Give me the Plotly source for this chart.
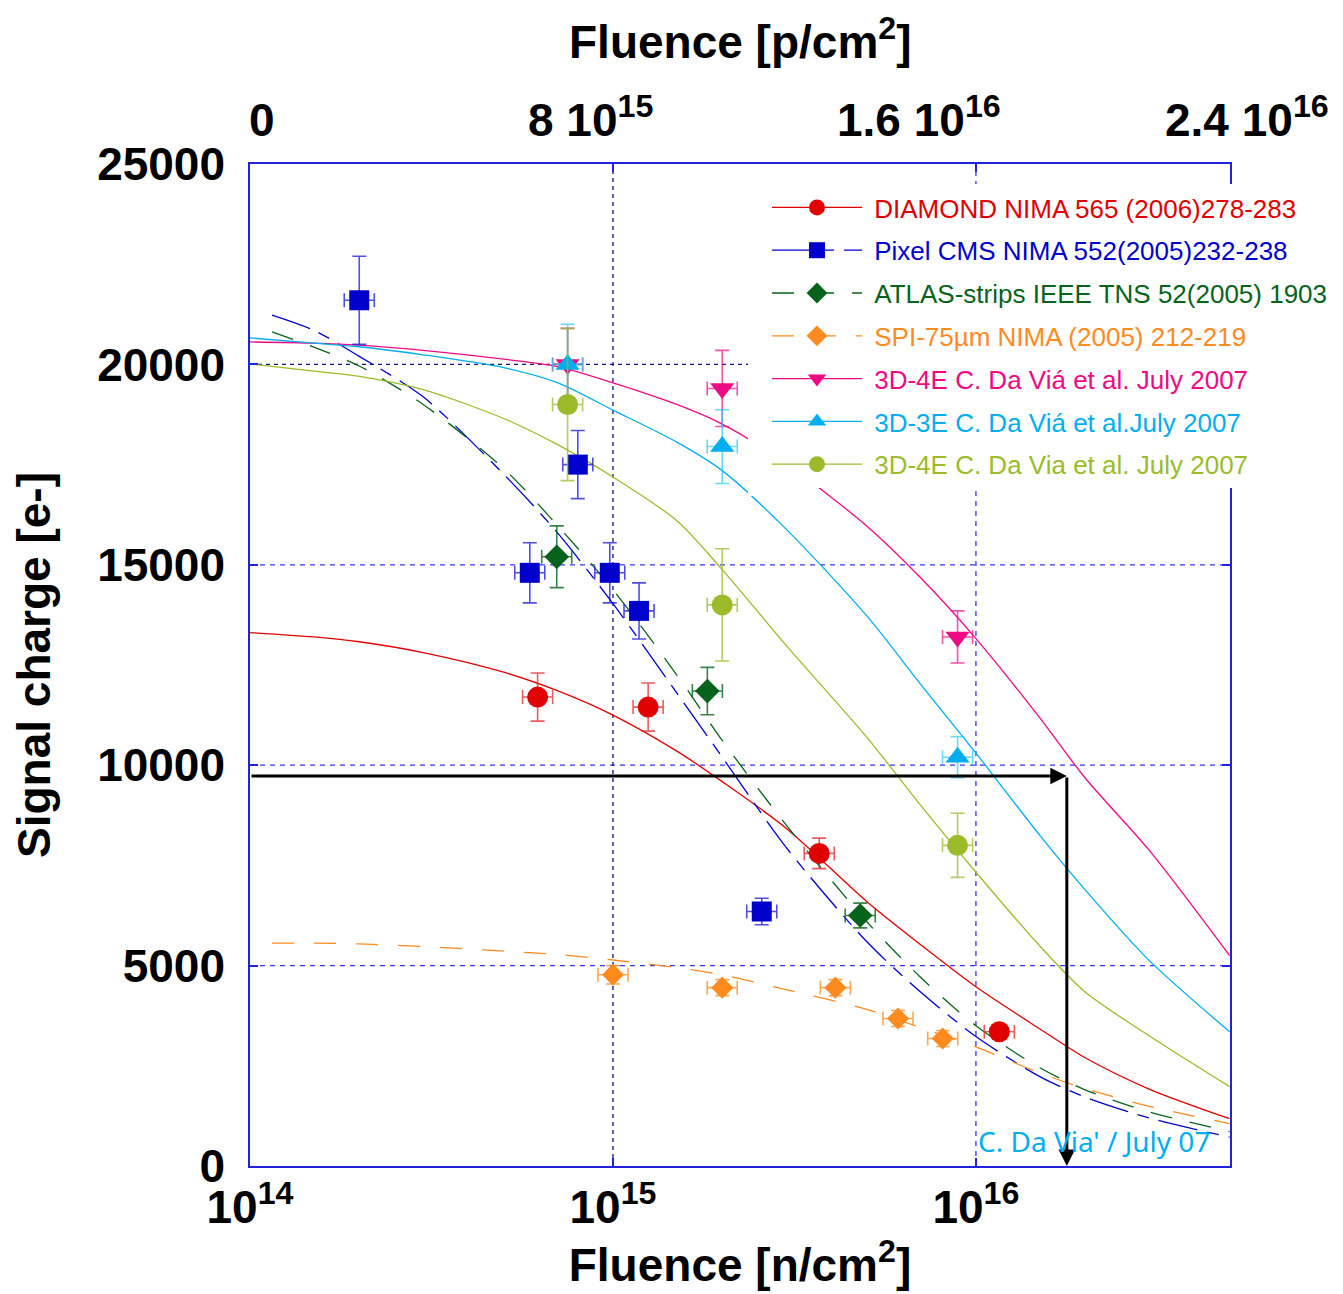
import math
import plotly.graph_objects as go

# ---------------- measured points (fluence in n/cm2, signal in e-) ----------------
dia_x = [6.2e14, 1.25e15, 3.7e15, 1.16e16]
dia_y = [11700, 11450, 7800, 3350]
dia_err = [600, 600, 380, 0]

cms_x = [2.0e14, 5.9e14, 8.0e14, 9.8e14, 1.18e15, 2.57e15]
cms_y = [21600, 14800, 17500, 14800, 13850, 6350]
cms_err = [1100, 750, 850, 750, 700, 330]

atlas_x = [7.0e14, 1.82e15, 4.8e15]
atlas_y = [15200, 11850, 6250]
atlas_err = [770, 590, 310]

spi_x = [1.0e15, 2.0e15, 4.1e15, 6.1e15, 8.1e15]
spi_y = [4770, 4450, 4450, 3680, 3180]
spi_err = [230, 200, 200, 200, 200]

d4e_x = [7.5e14, 2.0e15, 8.9e15]
d4e_y = [20000, 19400, 13200]
d4e_err = [900, 950, 650]

d3e_x = [7.5e14, 2.0e15, 8.9e15]
d3e_y = [20000, 17950, 10200]
d3e_err = [1000, 920, 510]

v4e_x = [7.5e14, 2.0e15, 8.9e15]
v4e_y = [19000, 14000, 8000]
v4e_err = [1900, 1400, 800]

# relative uncertainty on the fluence
fluence_rel_err = 0.10

# ---------------- fitted curves ----------------
fit_x = [1e14, 1.5e14, 2e14, 3e14, 5e14, 7e14, 1e15, 1.5e15, 2e15, 3e15,
         5e15, 7e15, 1e16, 1.5e16, 2e16, 3e16, 5e16]
dia_fit = [13310, 13200, 13080, 12810, 12320, 11865, 11250, 10350, 9590, 8430,
           6600, 5540, 4470, 3420, 2700, 1920, 1180]
d3e_fit = [20660, 20530, 20440, 20240, 19920, 19550, 18860, 18060, 17350, 15890,
           13730, 12050, 10300, 8250, 6890, 5130, 3350]
d4e_fit = [20560, 20530, 20480, 20350, 20130, 19950, 19540, 19000, 18510, 17530,
           15970, 14700, 13160, 11180, 9680, 7880, 5250]
v4e_fit = [20010, 19830, 19700, 19370, 18650, 18010, 17190, 16100, 14880, 12990,
           10700, 9030, 7330, 5490, 4340, 3250, 1980]

dfit_x = [1.15e14, 1.5e14, 2e14, 3e14, 5e14, 7e14, 1e15, 1.5e15, 2e15, 3e15,
          5e15, 7e15, 1e16, 1.5e16, 2e16, 3e16, 5e16]
cms_fit = [21230, 20850, 20200, 19190, 17260, 15820, 14030, 11800, 10200, 7950,
           5600, 4360, 3230, 2230, 1720, 1200, 720]
atlas_fit = [20810, 20430, 19960, 19000, 17400, 16000, 14380, 12250, 10620, 8510,
             6100, 4730, 3500, 2450, 1900, 1350, 860]
spi_fit = [5560, 5560, 5540, 5475, 5360, 5280, 5140, 4950, 4770, 4400,
           3910, 3460, 2970, 2320, 1930, 1490, 1060]

# guide: signal threshold and the fluence where the 3D-4E fit reaches it
guide_signal = 9730
guide_fluence = 1.78e16

# ---------------- axis labels ----------------
y_ticks = [0, 5000, 10000, 15000, 20000, 25000]
y_tick_text = ["0", "5000", "10000", "15000", "20000", "25000"]
x_ticks = [1e14, 1e15, 1e16]
x_tick_text = ["10<sup>14</sup>", "10<sup>15</sup>", "10<sup>16</sup>"]
p_tick_vals = [0, 8e15, 1.6e16, 2.4e16]
p_tick_text = ["0", "8 10<sup>15</sup>", "1.6 10<sup>16</sup>", "2.4 10<sup>16</sup>"]

series = [
    dict(name="DIAMOND NIMA 565 (2006)278-283", color="#E00000", err="rgba(224,40,40,0.75)",
         x=dia_x, y=dia_y, e=dia_err, fx=fit_x, fy=dia_fit, dash="solid",
         symbol="circle", size=21),
    dict(name="Pixel CMS NIMA 552(2005)232-238", color="#0000CC", err="rgba(20,20,220,0.75)",
         x=cms_x, y=cms_y, e=cms_err, fx=dfit_x, fy=cms_fit, dash="40px,10px,12px,10px",
         symbol="square", size=20),
    dict(name="ATLAS-strips IEEE TNS 52(2005) 1903", color="#07631C", err="rgba(7,99,28,0.8)",
         x=atlas_x, y=atlas_y, e=atlas_err, fx=dfit_x, fy=atlas_fit, dash="22px,18px",
         symbol="diamond", size=19),
    dict(name="SPI-75\u00b5m NIMA (2005) 212-219", color="#FF8A1E", err="rgba(255,138,30,0.75)",
         x=spi_x, y=spi_y, e=spi_err, fx=dfit_x, fy=spi_fit, dash="22px,20px",
         symbol="diamond", size=17),
    dict(name="3D-4E C. Da Vi\u00e1 et al. July 2007", color="#EE0A84", err="rgba(238,10,132,0.7)",
         x=d4e_x, y=d4e_y, e=d4e_err, fx=fit_x, fy=d4e_fit, dash="solid",
         symbol="triangle-down", size=21),
    dict(name="3D-3E C. Da Vi\u00e1 et al.July 2007", color="#00AEEF", err="rgba(40,200,250,0.7)",
         x=d3e_x, y=d3e_y, e=d3e_err, fx=fit_x, fy=d3e_fit, dash="solid",
         symbol="triangle-up", size=21),
    dict(name="3D-4E C. Da Via et al. July 2007", color="#9BBB2A", err="rgba(155,187,42,0.75)",
         x=v4e_x, y=v4e_y, e=v4e_err, fx=fit_x, fy=v4e_fit, dash="solid",
         symbol="circle", size=21),
]

fig = go.Figure()

# fitted curves
for s in series:
    fig.add_trace(go.Scatter(x=s["fx"], y=s["fy"], mode="lines", showlegend=False,
                             line=dict(color=s["color"], width=1.3, dash=s["dash"],
                                       shape="spline", smoothing=0.8),
                             hoverinfo="skip"))

# measured points with error bars
for s in series:
    xp = [v * fluence_rel_err for v in s["x"]]
    xm = [v * (1 - 1 / (1 + fluence_rel_err)) for v in s["x"]]
    fig.add_trace(go.Scatter(
        x=s["x"], y=s["y"], mode="markers", showlegend=False,
        marker=dict(symbol=s["symbol"], size=s["size"], color=s["color"], line=dict(width=0)),
        error_y=dict(type="data", array=s["e"], visible=True, color=s["err"], thickness=1.6, width=7),
        error_x=dict(type="data", array=xp, arrayminus=xm, visible=True, color=s["err"],
                     thickness=1.6, width=7),
    ))

# legend entries
for i, s in enumerate(series):
    fig.add_trace(go.Scatter(
        x=[None], y=[None], mode="lines+markers", legendgroup=f"g{i}",
        name=f"<span style='color:{s['color']}'>&nbsp;{s['name']}</span>",
        line=dict(color=s["color"], width=1.3, dash=s["dash"]),
        marker=dict(symbol=s["symbol"], size=16, color=s["color"]),
    ))

# dashed reference grid
grid_blue = "#3535EE"
grid_dark = "#15157A"
shapes = []
for yv in [5000, 10000, 15000]:
    shapes.append(dict(type="line", xref="paper", x0=0, x1=1, yref="y", y0=yv, y1=yv,
                       line=dict(color=grid_blue, width=1.3, dash="5px,5px"), layer="below"))
shapes.append(dict(type="line", xref="paper", x0=0, x1=1, yref="y", y0=20000, y1=20000,
                   line=dict(color=grid_dark, width=1.3, dash="4px,4px"), layer="below"))
shapes.append(dict(type="line", xref="x", x0=1e15, x1=1e15, yref="paper", y0=0, y1=1,
                   line=dict(color=grid_dark, width=1.3, dash="4px,4px"), layer="below"))
shapes.append(dict(type="line", xref="x", x0=1e16, x1=1e16, yref="paper", y0=0, y1=1,
                   line=dict(color=grid_blue, width=1.3, dash="5px,5px"), layer="below"))
# white panel behind the legend block
shapes.append(dict(type="rect", xref="paper", yref="paper", x0=(748 - 250) / 980, x1=(768 - 250) / 980,
                   y0=(1166 - 496) / 1002, y1=(1166 - 170) / 1002,
                   fillcolor="white", line=dict(width=0), layer="above"))

axis_font = dict(family="Liberation Sans, Arial, sans-serif", size=46, color="black", weight="bold")

annotations = []
# upper proton-fluence scale
for v, t in zip(p_tick_vals, p_tick_text):
    annotations.append(dict(xref="paper", yref="paper", x=(12 + v / 2.4e16 * 985) / 980, y=1.0,
                            yshift=16, text=t, showarrow=False, xanchor="center", yanchor="bottom",
                            font=axis_font))
annotations.append(dict(xref="paper", yref="paper", x=0.5, y=1.0, yshift=94,
                        text="Fluence [p/cm<sup>2</sup>]", showarrow=False, xanchor="center",
                        yanchor="bottom", font=axis_font))
# guide arrows
annotations.append(dict(x=math.log10(guide_fluence), y=guide_signal, ax=14, ay=guide_signal,
                        xref="x", yref="y", axref="x", ayref="y", text="", showarrow=True,
                        arrowhead=2, arrowsize=1.1, arrowwidth=3, arrowcolor="black"))
annotations.append(dict(x=math.log10(guide_fluence), y=0, ax=math.log10(guide_fluence), ay=guide_signal,
                        xref="x", yref="y", axref="x", ayref="y", text="", showarrow=True,
                        arrowhead=2, arrowsize=1.1, arrowwidth=3, arrowcolor="black"))
annotations.append(dict(x=16.0, y=620, xref="x", yref="y", text="C. Da Via' / July 07",
                        showarrow=False, xanchor="left", yanchor="middle",
                        font=dict(family="Comic Sans MS, Noto Sans, sans-serif", size=28,
                                  color="#00AEEF")))

frame_blue = "#2222DD"
fig.update_layout(
    width=1343, height=1294,
    margin=dict(l=250, r=113, t=164, b=128, autoexpand=False),
    paper_bgcolor="white", plot_bgcolor="white",
    shapes=shapes, annotations=annotations,
    legend=dict(x=(767 - 250) / 980, y=(1166 - 184) / 1002, xanchor="left", yanchor="top",
                bgcolor="white", borderwidth=0, itemwidth=90, tracegroupgap=6,
                font=dict(family="Liberation Sans, Arial, sans-serif", size=26)),
    xaxis=dict(type="log", range=[14, 16.7], tickvals=x_ticks, ticktext=x_tick_text,
               showgrid=False, zeroline=False, showline=True, linecolor=frame_blue, linewidth=1.5,
               mirror="ticks", ticks="inside", ticklen=8, tickcolor=frame_blue, tickwidth=1.5,
               tickfont=axis_font,
               title=dict(text="Fluence [n/cm<sup>2</sup>]", font=axis_font, standoff=6)),
    yaxis=dict(range=[0, 25000], tickvals=y_ticks, ticktext=y_tick_text, showgrid=False,
               zeroline=False, showline=True, linecolor=frame_blue, linewidth=1.5, mirror="ticks",
               ticks="inside", ticklen=8, tickcolor=frame_blue, tickwidth=1.5,
               tickfont=axis_font, ticklabelstandoff=14,
               title=dict(text="Signal charge [e-]", font=axis_font, standoff=32)),
)

fig.write_html("out.html")
